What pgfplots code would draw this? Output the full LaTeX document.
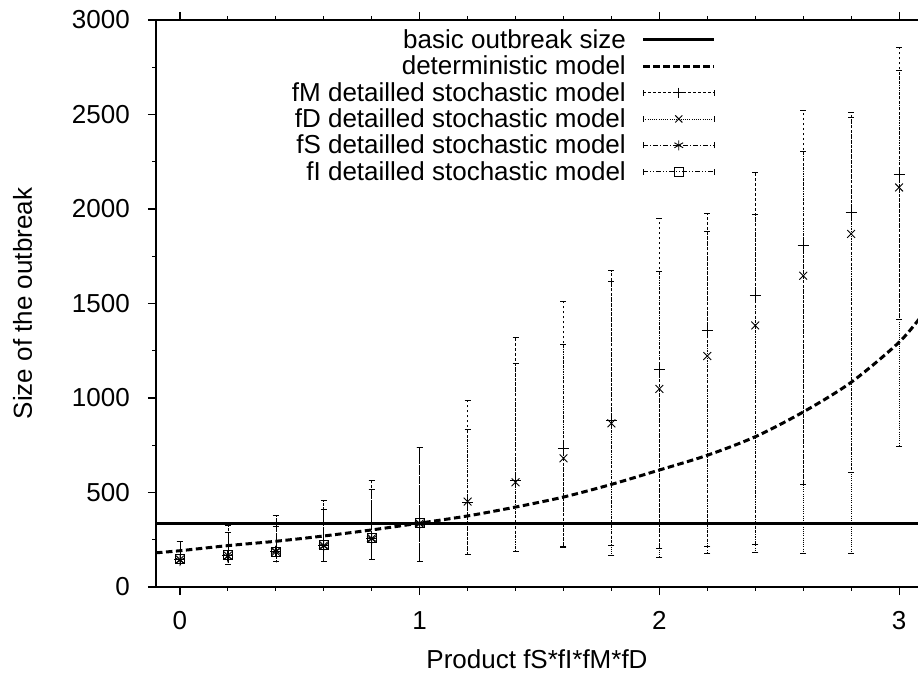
\documentclass[border=0pt]{standalone}
\usepackage{fontspec}
\setmainfont{Liberation Sans}
\usepackage{pgfplots}
\usepackage{pgfplotstable}
\pgfplotsset{compat=1.18}

\pgfplotstableread{
x y
-0.1 181
0.0 192
0.2 219
0.4 242
0.6 270
0.8 302
1.0 338
1.2 376
1.4 423
1.6 476
1.8 543
2.0 619
2.2 697
2.4 795
2.6 926
2.8 1083
3.0 1295
3.1 1445
}\det

\pgfplotstableread{
x y ep em
0.0 145 95 20
0.2 166 162 44
0.4 187 194 53
0.6 219 238 85
0.8 257 305 111
1.0 335 404 201
1.2 448 538 273
1.4 562 757 375
1.6 734 779 526
1.8 880 794 658
2.0 1153 799 946
2.2 1360 617 1143
2.4 1540 656 1312
2.6 1809 711 1268
2.8 1981 529 1372
3.0 2183 675 765
}\fM

\pgfplotstableread{
x y ep em
0.0 145 95 20
0.2 166 162 44
0.4 187 194 53
0.6 219 238 85
0.8 257 305 111
1.0 335 404 201
1.2 452 382 277
1.4 554 629 367
1.6 681 603 466
1.8 866 749 697
2.0 1048 620 889
2.2 1222 662 1042
2.4 1384 587 1199
2.6 1647 657 1467
2.8 1868 619 1688
3.0 2114 621 1368
}\fD

\pgfplotstableread{
x y ep em
0.0 140 100 15
0.2 160 127 38
0.4 190 132 56
0.6 217 194 83
0.8 255 263 109
1.0 335 404 201
}\fS

\pgfplotstableread{
x y ep em
0.0 148 92 23
0.2 168 119 46
0.4 188 134 54
0.6 221 190 87
0.8 262 256 116
1.0 337 402 203
}\fI

\tikzset{
  dashM/.style={dash pattern=on 2.5pt off 2.5pt},
  dashD/.style={dash pattern=on 1pt off 1.2pt},
  dashS/.style={dash pattern=on 5pt off 2pt on 1pt off 2pt},
  dashI/.style={dash pattern=on 5pt off 2pt on 1pt off 2pt on 1pt off 2pt},
}
\newcommand{\errlegend}[3]{%
  \draw[line width=0.6pt,#1] (0pt,0pt)--(71pt,0pt);
  \draw[line width=0.6pt] (0pt,-3pt)--(0pt,3pt) (71pt,-3pt)--(71pt,3pt);
  \draw[line width=0.9pt] plot[mark=#2, mark size=#3] coordinates {(35.5pt,0pt)};}

\begin{document}
\begin{tikzpicture}[font=\fontsize{26}{31}\selectfont]
\useasboundingbox (-156pt,-86pt) rectangle (762pt,587pt);
\begin{axis}[
  at={(0pt,0pt)}, anchor=south west,
  scale only axis, width=762pt, height=567pt,
  xmin=-0.1, xmax=3.079, ymin=0, ymax=3000,
  axis y line*=left,
  xtick={0,1,2,3}, minor x tick num=4,
  ytick={0,500,...,3000}, minor y tick num=1,
  tick align=outside,
  major tick length=8pt, minor tick length=3.5pt,
  tick style={line width=1.1pt, black},
  axis line style={line width=1.6pt},
  /pgf/number format/assume math mode=true,
  /pgf/number format/1000 sep={},
  scaled y ticks=false,
  yticklabel style={anchor=east, inner sep=0pt, xshift=-18pt},
  xticklabel style={anchor=base, inner sep=0pt, yshift=-34pt},
  xlabel={Product fS*fI*fM*fD},
  ylabel={Size of the outbreak},
  xlabel style={at={(axis description cs:0.5,0)}, anchor=base, inner sep=0pt, yshift=-81pt},
  ylabel style={at={(axis description cs:0,0.5)}, anchor=base, inner sep=0pt, yshift=124pt},
  legend plot pos=right,
  legend cell align=right,
  legend style={at={(rel axis cs:0.7349,0.9832)}, anchor=north east, draw=none, fill=none,
    inner sep=0pt, column sep=16pt, row sep=6pt, nodes={inner sep=0pt}},
  legend image code/.code={\draw[#1] (0pt,0pt) -- (71pt,0pt);},
]
\addplot[black, line width=3pt] coordinates {(-0.3,338) (3.3,338)};
\addlegendentry{basic outbreak size}
\addplot[black, line width=3pt, dash pattern=on 6.5pt off 3.5pt, smooth] table[x=x,y=y] {\det};
\addlegendentry{deterministic model}
\addplot[black, only marks, mark=+, mark size=5.5pt, mark options={solid, line width=0.9pt},
  legend image code/.code={\errlegend{dashM}{+}{5pt}},
  error bars/.cd, y dir=both, y explicit,
  error bar style={line width=0.6pt, dashM},
  error mark options={solid, line width=0.6pt, mark size=3pt, rotate=90},
  ] table[x=x, y=y, y error plus=ep, y error minus=em] {\fM};
\addlegendentry{fM detailled stochastic model}
\addplot[black, only marks, mark=x, mark size=5.5pt, mark options={solid, line width=0.9pt},
  legend image code/.code={\errlegend{dashD}{x}{5pt}},
  error bars/.cd, y dir=both, y explicit,
  error bar style={line width=0.6pt, dashD},
  error mark options={solid, line width=0.6pt, mark size=3pt, rotate=90},
  ] table[x=x, y=y, y error plus=ep, y error minus=em] {\fD};
\addlegendentry{fD detailled stochastic model}
\addplot[black, only marks, mark=asterisk, mark size=5.5pt, mark options={solid, line width=0.9pt},
  legend image code/.code={\errlegend{dashS}{asterisk}{5pt}},
  error bars/.cd, y dir=both, y explicit,
  error bar style={line width=0.6pt, dashS},
  error mark options={solid, line width=0.6pt, mark size=3pt, rotate=90},
  ] table[x=x, y=y, y error plus=ep, y error minus=em] {\fS};
\addlegendentry{fS detailled stochastic model}
\addplot[black, only marks, mark=square, mark size=4.5pt, mark options={solid, line width=0.8pt},
  legend image code/.code={\errlegend{dashI}{square}{4.5pt}},
  error bars/.cd, y dir=both, y explicit,
  error bar style={line width=0.6pt, dashI},
  error mark options={solid, line width=0.6pt, mark size=3pt, rotate=90},
  ] table[x=x, y=y, y error plus=ep, y error minus=em] {\fI};
\addlegendentry{fI detailled stochastic model}
\end{axis}
\end{tikzpicture}
\end{document}
